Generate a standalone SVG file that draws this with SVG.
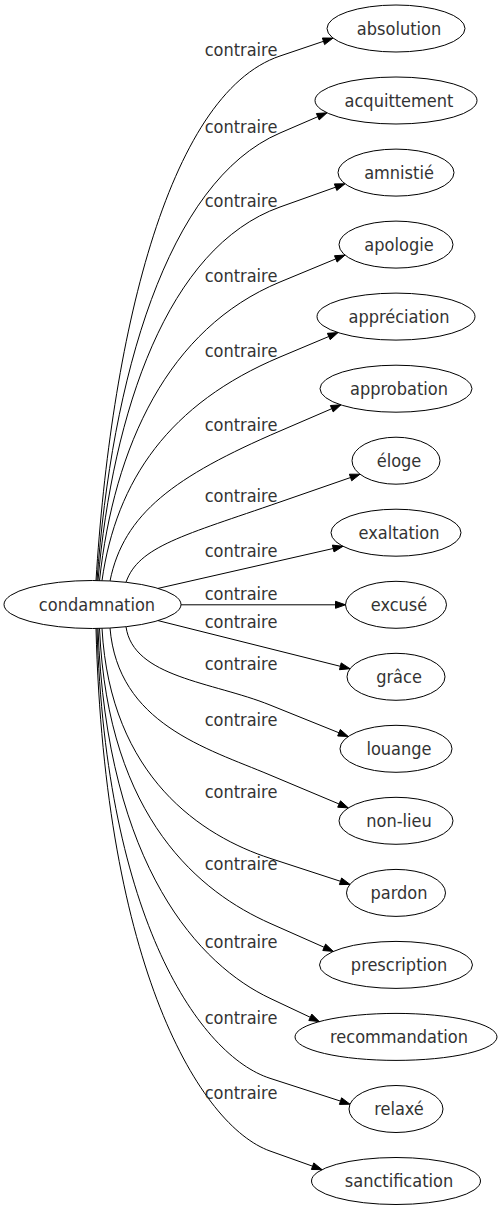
<svg xmlns="http://www.w3.org/2000/svg" width="503" height="1211" viewBox="0 0 503 1211">
<style>
text{font-family:"DejaVu Sans Condensed","DejaVu Sans",sans-serif;font-stretch:condensed;font-size:18px;fill:#333;text-anchor:middle}
.node ellipse{fill:none;stroke:#000;stroke-width:1}
.edge path{fill:none;stroke:#000;stroke-width:1}
.edge polygon{fill:#000;stroke:#000;stroke-width:1}
</style>
<rect width="503" height="1211" fill="#fff"/>
<g id="connectors">
<g class="edge" id="e1"><path d="M96,580.5 C110.7,344.5 165.9,94.5 280,56 L323.5,41.3"/><polygon points="333,38.1 324.6,44.6 322.4,38"/><text x="241" y="56">contraire</text></g>
<g class="edge" id="e2"><path d="M97,580.5 C111.6,379.1 166.5,181.8 280,133 L317.8,116.7"/><polygon points="327,112.8 319.2,119.9 316.4,113.5"/><text x="241" y="133">contraire</text></g>
<g class="edge" id="e3"><path d="M98,580.5 C112.6,412.4 167.2,247.3 280,207 L335.6,187.2"/><polygon points="345,183.8 336.8,190.5 334.4,183.9"/><text x="241" y="207">contraire</text></g>
<g class="edge" id="e4"><path d="M99.5,580.6 C113.9,446.2 168.1,328.3 280,282 L335.8,258.9"/><polygon points="345,255.1 337.1,262.1 334.5,255.7"/><text x="241" y="282">contraire</text></g>
<g class="edge" id="e5"><path d="M102,580.6 C116.2,480 169.6,403.4 280,357 L328.8,336.5"/><polygon points="338,332.6 330.2,339.7 327.4,333.3"/><text x="241" y="357">contraire</text></g>
<g class="edge" id="e6"><path d="M110,581 C123.6,513.5 174.6,476.3 280,431 L331.8,408.7"/><polygon points="341,404.8 333.2,411.9 330.4,405.5"/><text x="241" y="431">contraire</text></g>
<g class="edge" id="e7"><path d="M126,582.3 C138.3,546.2 184.5,535.2 280,502 L350.6,477.5"/><polygon points="360,474.2 351.7,480.8 349.4,474.2"/><text x="241" y="502">contraire</text></g>
<g class="edge" id="e8"><path d="M158,588.4 L333.2,548.5"/><polygon points="343,546.3 334,551.9 332.4,545.1"/><text x="241" y="557">contraire</text></g>
<g class="edge" id="e9"><path d="M181,604.8 L335.5,604.8"/><polygon points="345.5,604.8 335.5,608.3 335.5,601.3"/><text x="241" y="600">contraire</text></g>
<g class="edge" id="e10"><path d="M158,620.6 L340.3,666.3"/><polygon points="350,668.7 339.5,669.7 341.2,662.9"/><text x="241" y="628">contraire</text></g>
<g class="edge" id="e11"><path d="M126,626.7 C133.2,677.6 212.4,681.8 270,705 L339,732.8"/><polygon points="348.3,736.5 337.7,736 340.3,729.5"/><text x="241" y="670">contraire</text></g>
<g class="edge" id="e12"><path d="M110,628 C118,723.6 206,748.1 270,775 L339.1,804"/><polygon points="348.3,807.9 337.7,807.2 340.5,800.8"/><text x="241" y="726">contraire</text></g>
<g class="edge" id="e13"><path d="M102,628.4 C110.4,777.8 202.8,836.4 270,858.3 L340.5,881.3"/><polygon points="350,884.4 339.4,884.6 341.6,878"/><text x="241" y="798">contraire</text></g>
<g class="edge" id="e14"><path d="M99.5,628.4 C108,820.1 201.8,893 270,923.3 L324.2,947.3"/><polygon points="333.3,951.4 322.8,950.5 325.6,944.1"/><text x="241" y="870">contraire</text></g>
<g class="edge" id="e15"><path d="M98,628.5 C106.6,868.9 201.2,965.8 270,998.3 L310.3,1017.3"/><polygon points="319.3,1021.6 308.8,1020.5 311.8,1014.1"/><text x="241" y="948">contraire</text></g>
<g class="edge" id="e16"><path d="M97,628.5 C105.7,920.9 200.8,1055.9 270,1078.3 L340.5,1101.1"/><polygon points="350,1104.2 339.4,1104.4 341.6,1097.8"/><text x="241" y="1024">contraire</text></g>
<g class="edge" id="e17"><path d="M96,628.5 C104.7,968.1 200.4,1126.1 270,1151 L312.6,1166.2"/><polygon points="322,1169.6 311.4,1169.5 313.8,1162.9"/><text x="241" y="1099">contraire</text></g>
</g>
<g class="node" id="condamnation"><ellipse cx="92.5" cy="604.5" rx="88.5" ry="24"/><text x="97" y="610.5">condamnation</text></g>
<g class="node" id="absolution"><ellipse cx="396" cy="28.5" rx="69" ry="23.5"/><text x="399" y="34.5">absolution</text></g>
<g class="node" id="acquittement"><ellipse cx="396" cy="100.5" rx="81" ry="23.5"/><text x="399" y="106.5">acquittement</text></g>
<g class="node" id="amnistie"><ellipse cx="396" cy="172.6" rx="58" ry="23.5"/><text x="399" y="178.6">amnistié</text></g>
<g class="node" id="apologie"><ellipse cx="396" cy="244.6" rx="57" ry="23.5"/><text x="399" y="250.6">apologie</text></g>
<g class="node" id="appreciation"><ellipse cx="396" cy="316.6" rx="79" ry="23.5"/><text x="399" y="322.6">appréciation</text></g>
<g class="node" id="approbation"><ellipse cx="396" cy="388.7" rx="76" ry="23.5"/><text x="399" y="394.7">approbation</text></g>
<g class="node" id="eloge"><ellipse cx="396" cy="460.7" rx="44" ry="23.5"/><text x="399" y="466.7">éloge</text></g>
<g class="node" id="exaltation"><ellipse cx="396" cy="532.7" rx="65" ry="23.5"/><text x="399" y="538.7">exaltation</text></g>
<g class="node" id="excuse"><ellipse cx="396" cy="604.8" rx="50.5" ry="23.5"/><text x="399" y="610.8">excusé</text></g>
<g class="node" id="grace"><ellipse cx="396" cy="676.8" rx="49" ry="23.5"/><text x="399" y="682.8">grâce</text></g>
<g class="node" id="louange"><ellipse cx="396" cy="748.8" rx="56" ry="23.5"/><text x="399" y="754.8">louange</text></g>
<g class="node" id="non-lieu"><ellipse cx="396" cy="820.8" rx="57" ry="23.5"/><text x="399" y="826.8">non-lieu</text></g>
<g class="node" id="pardon"><ellipse cx="396" cy="892.9" rx="49.5" ry="23.5"/><text x="399" y="898.9">pardon</text></g>
<g class="node" id="prescription"><ellipse cx="396" cy="964.9" rx="76.5" ry="23.5"/><text x="399" y="970.9">prescription</text></g>
<g class="node" id="recommandation"><ellipse cx="396" cy="1036.9" rx="101" ry="23.5"/><text x="399" y="1042.9">recommandation</text></g>
<g class="node" id="relaxe"><ellipse cx="396" cy="1109" rx="47" ry="23.5"/><text x="399" y="1115">relaxé</text></g>
<g class="node" id="sanctification"><ellipse cx="396" cy="1181" rx="84.5" ry="23.5"/><text x="399" y="1187">sanctification</text></g>
</svg>
